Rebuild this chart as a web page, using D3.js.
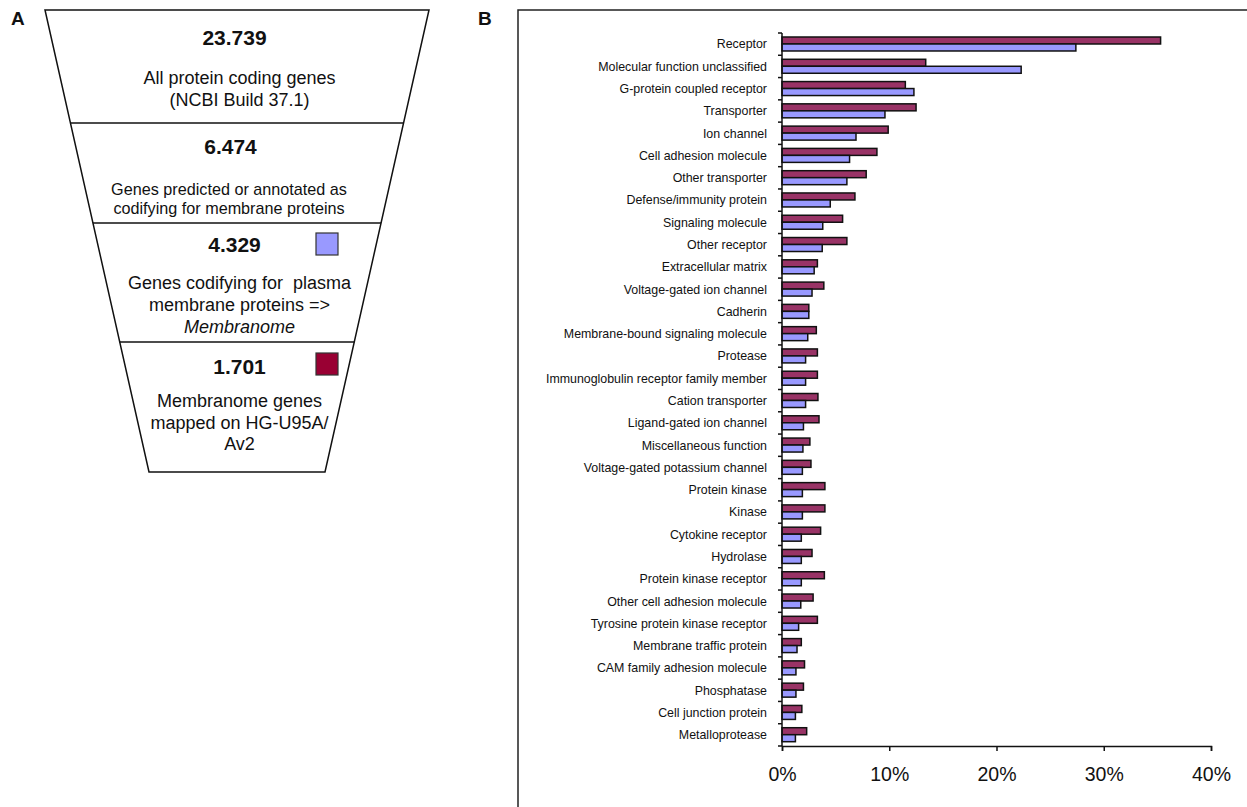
<!DOCTYPE html>
<html>
<head>
<meta charset="utf-8">
<script src="https://cdn.jsdelivr.net/npm/d3@7"></script>
<style>
  body { margin: 0; background: #fff; }
  text { font-family: "Liberation Sans", Arial, sans-serif; fill: #111; white-space: pre; }
</style>
</head>
<body>
<div id="canvas"></div>
<script>
// funnel levels (panel A)
var funnelCounts = ["23.739", "6.474", "4.329", "1.701"];
var funnelTexts = [
  ["All protein coding genes", "(NCBI Build 37.1)"],
  ["Genes predicted or annotated as", "codifying for membrane proteins"],
  ["Genes codifying for  plasma", "membrane proteins =>", "Membranome"],
  ["Membranome genes", "mapped on HG-U95A/", "Av2"]
];

// panel B
var categories = [
  "Receptor", "Molecular function unclassified", "G-protein coupled receptor",
  "Transporter", "Ion channel", "Cell adhesion molecule", "Other transporter",
  "Defense/immunity protein", "Signaling molecule", "Other receptor",
  "Extracellular matrix", "Voltage-gated ion channel", "Cadherin",
  "Membrane-bound signaling molecule", "Protease",
  "Immunoglobulin receptor family member", "Cation transporter",
  "Ligand-gated ion channel", "Miscellaneous function",
  "Voltage-gated potassium channel", "Protein kinase", "Kinase",
  "Cytokine receptor", "Hydrolase", "Protein kinase receptor",
  "Other cell adhesion molecule", "Tyrosine protein kinase receptor",
  "Membrane traffic protein", "CAM family adhesion molecule", "Phosphatase",
  "Cell junction protein", "Metalloprotease"
];
// % of genes mapped on HG-U95A/Av2 (1.701)
var mapped = [35.3, 13.4, 11.5, 12.5, 9.9, 8.85, 7.85, 6.8, 5.65, 6.05,
  3.3, 3.9, 2.5, 3.2, 3.3, 3.3, 3.35, 3.45, 2.6, 2.7, 4.0, 4.0, 3.6, 2.8,
  3.95, 2.9, 3.3, 1.8, 2.1, 2.0, 1.85, 2.3];
// % of membranome genes (4.329)
var membranome = [27.4, 22.3, 12.3, 9.6, 6.9, 6.3, 6.05, 4.5, 3.8, 3.75,
  3.0, 2.8, 2.5, 2.4, 2.2, 2.2, 2.2, 2.0, 1.95, 1.9, 1.9, 1.9, 1.8, 1.8,
  1.8, 1.75, 1.55, 1.4, 1.3, 1.3, 1.25, 1.25];
var xTicks = [0, 10, 20, 30, 40];

var colors = { mapped: "#993366", membranome: "#9999ff" };

var width = 1247, height = 807;
var svg = d3.select("#canvas").append("svg")
  .attr("width", width).attr("height", height);

// panel letters
svg.append("text").attr("x", 11).attr("y", 25).text("A")
  .style("font-weight", "bold").style("font-size", "19px");
svg.append("text").attr("x", 478).attr("y", 25).text("B")
  .style("font-weight", "bold").style("font-size", "19px");

// ---- panel A: funnel ----
var cx = 237;
var levelY = [10, 123, 223, 342, 472];
var halfW = d3.scaleLinear().domain([10, 472]).range([192, 88]);

var funnel = svg.append("g");
funnel.append("path")
  .attr("d", d3.line()([
    [cx - halfW(10), 10], [cx + halfW(10), 10],
    [cx + halfW(472), 472], [cx - halfW(472), 472]
  ]) + "Z")
  .attr("fill", "none").attr("stroke", "#111").attr("stroke-width", 1.5);

levelY.slice(1, 4).forEach(function(y) {
  funnel.append("line")
    .attr("x1", cx - halfW(y)).attr("x2", cx + halfW(y))
    .attr("y1", y).attr("y2", y)
    .attr("stroke", "#111").attr("stroke-width", 1.5);
});

var countY = [38, 147, 245, 367];
var countX = [234.5, 230.5, 234.5, 239.5];
var textX = [239.5, 229, 239.5, 239.5];
var textSize = [18, 16.2, 18, 18];
var textY = [[78, 100], [189, 208], [283, 305, 327], [401, 423, 444]];

funnelCounts.forEach(function(c, i) {
  funnel.append("text")
    .attr("x", countX[i]).attr("y", countY[i]).attr("dy", "0.35em")
    .attr("text-anchor", "middle")
    .style("font-weight", "bold").style("font-size", "21px")
    .text(c);
  funnelTexts[i].forEach(function(t, j) {
    funnel.append("text")
      .attr("x", textX[i]).attr("y", textY[i][j]).attr("dy", "0.35em")
      .attr("text-anchor", "middle")
      .style("font-size", textSize[i] + "px")
      .style("font-style", t === "Membranome" ? "italic" : "normal")
      .text(t);
  });
});

// legend squares
[["membranome", 233], ["mapped", 353]].forEach(function(d) {
  funnel.append("rect")
    .attr("x", 316).attr("y", d[1]).attr("width", 22).attr("height", 22)
    .attr("fill", d[0] === "mapped" ? "#990033" : colors.membranome)
    .attr("stroke", "#333").attr("stroke-width", 1.2);
});

// ---- panel B: bars ----
svg.append("rect")
  .attr("x", 518).attr("y", 10).attr("width", 740).attr("height", 820)
  .attr("fill", "none").attr("stroke", "#222").attr("stroke-width", 1.5);

var x = d3.scaleLinear().domain([0, 40]).range([782, 1211]);
var y = d3.scaleBand().domain(categories).range([33, 746]).padding(0);
var inner = d3.scaleBand().domain(["mapped", "membranome"])
  .range([4, y.bandwidth() - 4.3]).padding(0);

var rows = svg.append("g").selectAll("g")
  .data(categories)
  .enter()
  .append("g")
  .attr("transform", function(d) { return "translate(0," + y(d) + ")"; });

rows.selectAll("rect")
  .data(function(d, i) {
    return [
      { key: "mapped", v: mapped[i] },
      { key: "membranome", v: membranome[i] }
    ];
  })
  .enter()
  .append("rect")
  .attr("x", x(0))
  .attr("y", function(d) { return inner(d.key); })
  .attr("width", function(d) { return x(d.v) - x(0); })
  .attr("height", inner.bandwidth())
  .attr("fill", function(d) { return colors[d.key]; })
  .attr("stroke", "#111")
  .attr("stroke-width", 1.5);

rows.append("text")
  .attr("x", 767)
  .attr("y", y.bandwidth() / 2)
  .attr("dy", "0.35em")
  .attr("text-anchor", "end")
  .style("font-size", "12.4px")
  .text(function(d) { return d; });

// category axis with ticks on band boundaries
var yAxis = svg.append("g");
yAxis.append("line")
  .attr("x1", x(0)).attr("x2", x(0)).attr("y1", 33).attr("y2", 746)
  .attr("stroke", "#111").attr("stroke-width", 1.5);
categories.concat(["end"]).forEach(function(c) {
  var yy = c === "end" ? 746 : y(c);
  yAxis.append("line")
    .attr("x1", x(0) - 4).attr("x2", x(0)).attr("y1", yy).attr("y2", yy)
    .attr("stroke", "#111").attr("stroke-width", 1.5);
});

var xAxis = svg.append("g")
  .attr("transform", "translate(0,746)")
  .call(d3.axisBottom(x).tickValues(xTicks).tickSize(5).tickPadding(16)
    .tickFormat(function(d) { return d + "%"; }));
xAxis.select(".domain").attr("stroke", "#111").attr("stroke-width", 1.5);
xAxis.selectAll(".tick line").attr("stroke", "#111").attr("stroke-width", 1.5);
xAxis.selectAll(".tick text")
  .style("font-family", "Liberation Sans, Arial, sans-serif")
  .style("font-size", "19.5px").attr("fill", "#111");
</script>
</body>
</html>
